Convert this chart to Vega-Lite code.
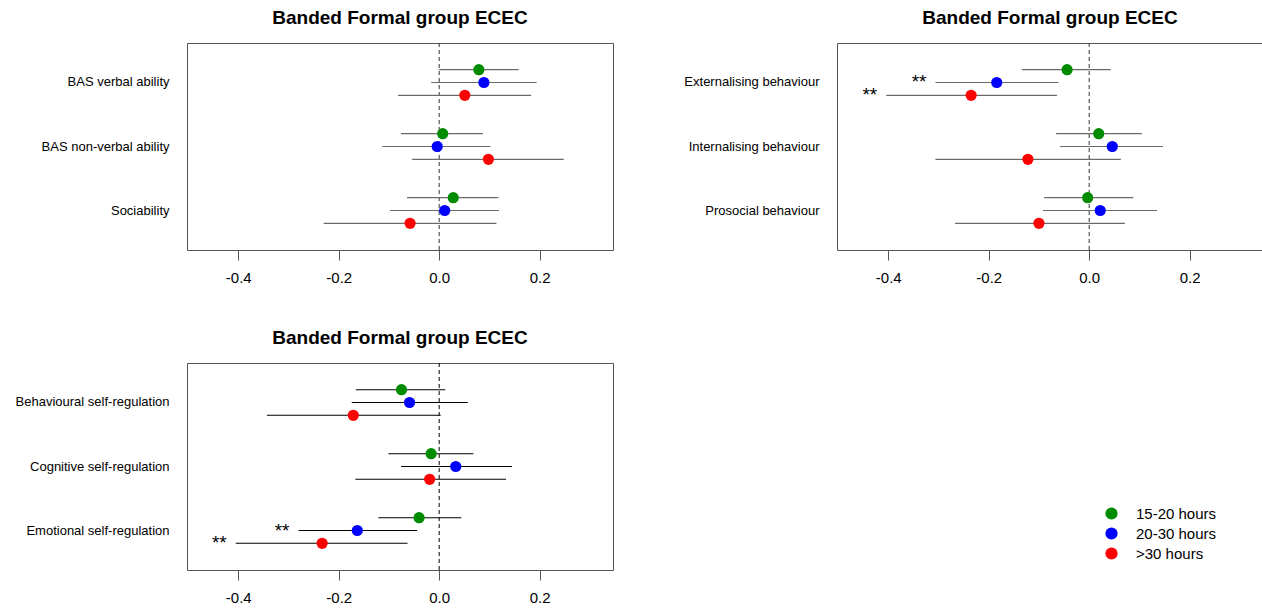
{
  "$schema": "https://vega.github.io/schema/vega-lite/v6.json",
  "background": "white",
  "padding": {"left": 14, "top": 8, "right": 0, "bottom": 0},
  "columns": 2,
  "spacing": {"row": 113, "column": 224},
  "bounds": "flush",
  "datasets": {
    "cognitive": [
      {"outcome": "BAS verbal ability", "hours": "15-20 hours", "est": 0.079, "lo": 0.0, "hi": 0.158, "sig": ""},
      {"outcome": "BAS verbal ability", "hours": "20-30 hours", "est": 0.089, "lo": -0.016, "hi": 0.194, "sig": ""},
      {"outcome": "BAS verbal ability", "hours": ">30 hours", "est": 0.051, "lo": -0.082, "hi": 0.183, "sig": ""},
      {"outcome": "BAS non-verbal ability", "hours": "15-20 hours", "est": 0.007, "lo": -0.076, "hi": 0.087, "sig": ""},
      {"outcome": "BAS non-verbal ability", "hours": "20-30 hours", "est": -0.004, "lo": -0.113, "hi": 0.102, "sig": ""},
      {"outcome": "BAS non-verbal ability", "hours": ">30 hours", "est": 0.098, "lo": -0.054, "hi": 0.248, "sig": ""},
      {"outcome": "Sociability", "hours": "15-20 hours", "est": 0.028, "lo": -0.064, "hi": 0.118, "sig": ""},
      {"outcome": "Sociability", "hours": "20-30 hours", "est": 0.011, "lo": -0.098, "hi": 0.119, "sig": ""},
      {"outcome": "Sociability", "hours": ">30 hours", "est": -0.058, "lo": -0.230, "hi": 0.114, "sig": ""}
    ],
    "behaviour": [
      {"outcome": "Externalising behaviour", "hours": "15-20 hours", "est": -0.044, "lo": -0.134, "hi": 0.043, "sig": ""},
      {"outcome": "Externalising behaviour", "hours": "20-30 hours", "est": -0.184, "lo": -0.306, "hi": -0.061, "sig": "**"},
      {"outcome": "Externalising behaviour", "hours": ">30 hours", "est": -0.235, "lo": -0.404, "hi": -0.064, "sig": "**"},
      {"outcome": "Internalising behaviour", "hours": "15-20 hours", "est": 0.019, "lo": -0.066, "hi": 0.105, "sig": ""},
      {"outcome": "Internalising behaviour", "hours": "20-30 hours", "est": 0.046, "lo": -0.058, "hi": 0.147, "sig": ""},
      {"outcome": "Internalising behaviour", "hours": ">30 hours", "est": -0.122, "lo": -0.306, "hi": 0.063, "sig": ""},
      {"outcome": "Prosocial behaviour", "hours": "15-20 hours", "est": -0.003, "lo": -0.090, "hi": 0.088, "sig": ""},
      {"outcome": "Prosocial behaviour", "hours": "20-30 hours", "est": 0.022, "lo": -0.092, "hi": 0.135, "sig": ""},
      {"outcome": "Prosocial behaviour", "hours": ">30 hours", "est": -0.100, "lo": -0.267, "hi": 0.071, "sig": ""}
    ],
    "selfreg": [
      {"outcome": "Behavioural self-regulation", "hours": "15-20 hours", "est": -0.075, "lo": -0.166, "hi": 0.012, "sig": ""},
      {"outcome": "Behavioural self-regulation", "hours": "20-30 hours", "est": -0.059, "lo": -0.174, "hi": 0.057, "sig": ""},
      {"outcome": "Behavioural self-regulation", "hours": ">30 hours", "est": -0.171, "lo": -0.343, "hi": 0.003, "sig": ""},
      {"outcome": "Cognitive self-regulation", "hours": "15-20 hours", "est": -0.016, "lo": -0.101, "hi": 0.068, "sig": ""},
      {"outcome": "Cognitive self-regulation", "hours": "20-30 hours", "est": 0.033, "lo": -0.076, "hi": 0.145, "sig": ""},
      {"outcome": "Cognitive self-regulation", "hours": ">30 hours", "est": -0.019, "lo": -0.167, "hi": 0.133, "sig": ""},
      {"outcome": "Emotional self-regulation", "hours": "15-20 hours", "est": -0.040, "lo": -0.121, "hi": 0.044, "sig": ""},
      {"outcome": "Emotional self-regulation", "hours": "20-30 hours", "est": -0.163, "lo": -0.280, "hi": -0.044, "sig": "**"},
      {"outcome": "Emotional self-regulation", "hours": ">30 hours", "est": -0.233, "lo": -0.405, "hi": -0.063, "sig": "**"}
    ],
    "zero": [{"ref": 0}]
  },
  "concat": [
    {
      "title": "Banded Formal group ECEC",
      "width": 426,
      "height": 207,
      "layer": [
        {
          "data": {"name": "zero"},
          "mark": {"type": "rule", "strokeDash": [4, 3], "color": "#333333", "strokeWidth": 1},
          "encoding": {
            "x": {"field": "ref", "type": "quantitative", "scale": {"domain": [-0.502, 0.346], "nice": false, "zero": false},
              "axis": {"values": [-0.4, -0.2, 0, 0.2], "labelExpr": "replace(format(datum.value, '.1f'), '\u2212', '-')"}}
          }
        },
        {
          "data": {"name": "cognitive"},
          "mark": {"type": "rule", "color": "#6b6b6b", "strokeWidth": 1.2},
          "encoding": {
            "x": {"field": "lo", "type": "quantitative"},
            "x2": {"field": "hi"},
            "y": {"field": "outcome", "type": "nominal", "sort": null, "title": null, "scale": {"paddingInner": 0, "paddingOuter": 0.117}},
            "yOffset": {"field": "hours", "type": "nominal", "sort": null, "scale": {"paddingInner": 0, "paddingOuter": 1}}
          }
        },
        {
          "data": {"name": "cognitive"},
          "mark": {"type": "circle", "size": 125, "opacity": 1},
          "encoding": {
            "x": {"field": "est", "type": "quantitative"},
            "y": {"field": "outcome", "type": "nominal", "sort": null},
            "yOffset": {"field": "hours", "type": "nominal", "sort": null},
            "color": {"field": "hours", "type": "nominal", "sort": null,
              "scale": {"domain": ["15-20 hours", "20-30 hours", ">30 hours"], "range": ["#008b00", "#0000ff", "#ff0000"]},
              "legend": {"orient": "none", "legendX": 917, "legendY": 463, "title": null, "padding": 0}}
          }
        }
      ]
    },
    {
      "title": "Banded Formal group ECEC",
      "width": 426,
      "height": 207,
      "layer": [
        {
          "data": {"name": "zero"},
          "mark": {"type": "rule", "strokeDash": [4, 3], "color": "#333333", "strokeWidth": 1},
          "encoding": {
            "x": {"field": "ref", "type": "quantitative", "scale": {"domain": [-0.502, 0.346], "nice": false, "zero": false},
              "axis": {"values": [-0.4, -0.2, 0, 0.2], "labelExpr": "replace(format(datum.value, '.1f'), '\u2212', '-')"}}
          }
        },
        {
          "data": {"name": "behaviour"},
          "mark": {"type": "rule", "color": "#6b6b6b", "strokeWidth": 1.2},
          "encoding": {
            "x": {"field": "lo", "type": "quantitative"},
            "x2": {"field": "hi"},
            "y": {"field": "outcome", "type": "nominal", "sort": null, "title": null, "scale": {"paddingInner": 0, "paddingOuter": 0.117}},
            "yOffset": {"field": "hours", "type": "nominal", "sort": null, "scale": {"paddingInner": 0, "paddingOuter": 1}}
          }
        },
        {
          "data": {"name": "behaviour"},
          "mark": {"type": "circle", "size": 125, "opacity": 1},
          "encoding": {
            "x": {"field": "est", "type": "quantitative"},
            "y": {"field": "outcome", "type": "nominal", "sort": null},
            "yOffset": {"field": "hours", "type": "nominal", "sort": null},
            "color": {"field": "hours", "type": "nominal", "sort": null}
          }
        },
        {
          "data": {"name": "behaviour"},
          "mark": {"type": "text", "align": "right", "baseline": "middle", "dx": -9, "fontSize": 19, "color": "black"},
          "encoding": {
            "x": {"field": "lo", "type": "quantitative"},
            "y": {"field": "outcome", "type": "nominal", "sort": null},
            "yOffset": {"field": "hours", "type": "nominal", "sort": null},
            "text": {"field": "sig"}
          }
        }
      ]
    },
    {
      "title": "Banded Formal group ECEC",
      "width": 426,
      "height": 207,
      "layer": [
        {
          "data": {"name": "zero"},
          "mark": {"type": "rule", "strokeDash": [4, 3], "color": "#000000", "strokeWidth": 1},
          "encoding": {
            "x": {"field": "ref", "type": "quantitative", "scale": {"domain": [-0.502, 0.346], "nice": false, "zero": false},
              "axis": {"values": [-0.4, -0.2, 0, 0.2], "labelExpr": "replace(format(datum.value, '.1f'), '\u2212', '-')"}}
          }
        },
        {
          "data": {"name": "selfreg"},
          "mark": {"type": "rule", "color": "#000000", "strokeWidth": 1.1},
          "encoding": {
            "x": {"field": "lo", "type": "quantitative"},
            "x2": {"field": "hi"},
            "y": {"field": "outcome", "type": "nominal", "sort": null, "title": null, "scale": {"paddingInner": 0, "paddingOuter": 0.117}},
            "yOffset": {"field": "hours", "type": "nominal", "sort": null, "scale": {"paddingInner": 0, "paddingOuter": 1}}
          }
        },
        {
          "data": {"name": "selfreg"},
          "mark": {"type": "circle", "size": 125, "opacity": 1},
          "encoding": {
            "x": {"field": "est", "type": "quantitative"},
            "y": {"field": "outcome", "type": "nominal", "sort": null},
            "yOffset": {"field": "hours", "type": "nominal", "sort": null},
            "color": {"field": "hours", "type": "nominal", "sort": null}
          }
        },
        {
          "data": {"name": "selfreg"},
          "mark": {"type": "text", "align": "right", "baseline": "middle", "dx": -9, "fontSize": 19, "color": "black"},
          "encoding": {
            "x": {"field": "lo", "type": "quantitative"},
            "y": {"field": "outcome", "type": "nominal", "sort": null},
            "yOffset": {"field": "hours", "type": "nominal", "sort": null},
            "text": {"field": "sig"}
          }
        }
      ]
    }
  ],
  "resolve": {"scale": {"x": "independent", "y": "independent"}},
  "config": {
    "font": "Liberation Sans",
    "view": {"stroke": "#555555", "strokeWidth": 1},
    "title": {"fontSize": 19, "fontWeight": "bold", "font": "Liberation Sans", "color": "black", "anchor": "middle", "frame": "group", "offset": 15},
    "axisX": {"title": null, "grid": false, "domain": false, "tickSize": 10, "tickColor": "#555555", "labelFontSize": 15, "labelColor": "black", "labelPadding": 10, "labelFont": "Liberation Sans"},
    "axisY": {"title": null, "grid": false, "domain": false, "ticks": false, "labelFontSize": 13, "labelColor": "black", "labelPadding": 18, "labelFont": "Liberation Sans"},
    "legend": {"symbolType": "circle", "symbolSize": 150, "symbolStrokeWidth": 0, "labelFontSize": 15, "labelFont": "Liberation Sans", "labelColor": "black", "labelOffset": 17, "rowPadding": 4}
  }
}
